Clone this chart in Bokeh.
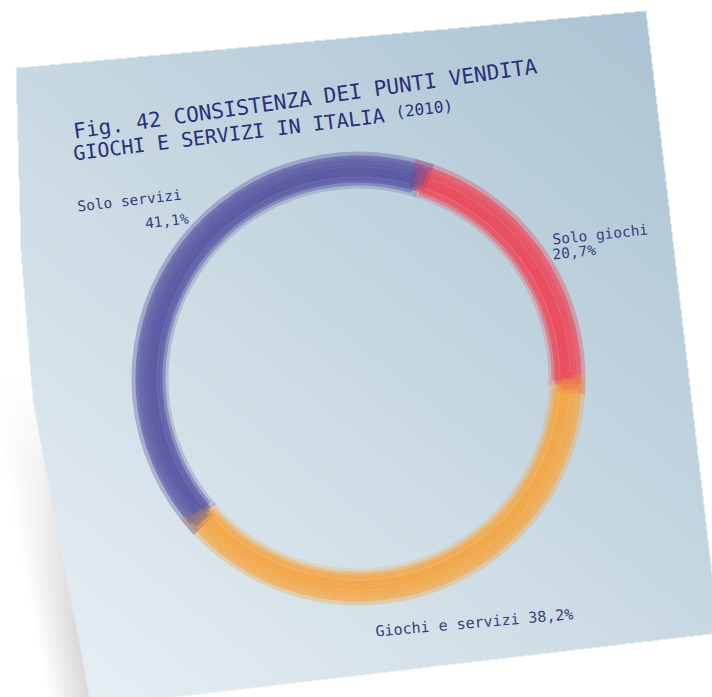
import numpy as np
from bokeh.plotting import figure
from bokeh.models import Range1d
from bokeh.embed import file_html
from bokeh.resources import INLINE
from bokeh.core.properties import value

# ---------------- data ----------------
categories = ["Solo giochi", "Giochi e servizi", "Solo servizi"]
shares = [20.7, 38.2, 41.1]
colors = ["#ee3e50", "#f5a23c", "#4f4c9e"]
streak_colors = ["#f57a86", "#f8bf72", "#7a78bb"]
title_line1 = "Fig. 42 CONSISTENZA DEI PUNTI VENDITA"
title_line2 = "GIOCHI E SERVIZI IN ITALIA"
title_year = "(2010)"

W, H = 712, 697
FONT = value("DejaVu Sans Mono")

def pct(v):
    return f"{v:.1f}".replace(".", ",") + "%"

def Y(y_img):
    return H - y_img

# ---------------- paper background (image) ----------------
poly = np.array([(15, 67), (645, 10), (718, 632), (90, 706), (78, 640),
                 (60, 550), (32, 400), (20, 250)], dtype=float)
yy, xx = np.mgrid[0:H, 0:W].astype(float)
inside = np.zeros((H, W), dtype=bool)
n = len(poly)
for i in range(n):
    x1, y1 = poly[i]
    x2, y2 = poly[(i + 1) % n]
    cond = ((y1 > yy) != (y2 > yy))
    xint = (x2 - x1) * (yy - y1) / (y2 - y1 + 1e-9) + x1
    inside ^= cond & (xx < xint)

v = np.array([-557.0, 690.0])
t = ((xx - 645) * v[0] + (yy - 10) * v[1]) / (v @ v)
t = np.clip(t, 0, 1)
c_top = np.array([172, 196, 212])
c_bot = np.array([230, 238, 242])
rgb = c_top[None, None, :] * (1 - t[..., None]) + c_bot[None, None, :] * t[..., None]

img = np.zeros((H, W, 4), dtype=np.uint8)
img[..., :3] = 255
img[..., 3] = 255
img[inside, :3] = rgb[inside].astype(np.uint8)

# soft shadow along lower-left edge (outside paper)
x_edge = np.interp(yy, [250, 400, 550, 640, 706], [20, 32, 60, 78, 90])
d = x_edge - xx
shadow = (~inside) & (d > 0) & (d < 40) & (yy > 380)
strength = np.clip((yy - 380) / 250, 0, 1) * (1 - d / 40) * 0.28
sh = np.where(shadow, strength, 0)
for k in range(3):
    img[..., k] = (img[..., k] * (1 - sh) + 120 * sh).astype(np.uint8)

img_flip = np.ascontiguousarray(np.flipud(img))
img32 = img_flip.view(dtype=np.uint32).reshape((H, W))

# ---------------- figure ----------------
p = figure(width=W, height=H, x_range=Range1d(0, W), y_range=Range1d(0, H),
           output_backend="svg", toolbar_location=None,
           x_axis_type=None, y_axis_type=None, min_border=0)
p.outline_line_color = None
p.grid.visible = False
p.background_fill_color = "white"
p.border_fill_color = "white"

p.image_rgba(image=[img32], x=0, y=0, dw=W, dh=H)

# ---------------- ring ----------------
cx, cy = 358, Y(378)
total = sum(shares)
offset_cw = 17.0  # degrees clockwise from 12 o'clock
cum = np.cumsum([0] + shares)
th1 = offset_cw + cum[:-1] / total * 360.0
th2 = offset_cw + cum[1:] / total * 360.0

layers = [  # inner, outer, alpha, angular overlap (deg)
    (196, 223, 0.55, 0.0),
    (199, 227, 0.35, 2.5),
    (193, 214, 0.40, -1.0),
    (203, 220, 0.35, 1.5),
    (190, 204, 0.22, 0.5),
]
for (ri, ro, a, ext) in layers:
    p.annular_wedge(x=[cx] * 3, y=[cy] * 3, inner_radius=ri, outer_radius=ro,
                    start_angle=list(np.radians(90 - (th1 - ext))),
                    end_angle=list(np.radians(90 - (th2 + ext))),
                    direction="clock", fill_color=colors, fill_alpha=a,
                    line_color=None)

# lighter brush streaks
for (r, a, ext) in [(201, 0.35, -2.0), (212, 0.30, -3.0), (219, 0.25, -1.0)]:
    p.arc(x=[cx] * 3, y=[cy] * 3, radius=r,
          start_angle=list(np.radians(90 - (th1 - ext))),
          end_angle=list(np.radians(90 - (th2 + ext))),
          direction="clock", line_color=streak_colors, line_alpha=a,
          line_width=2)

# ---------------- title ----------------
title_col = "#283079"
p.text(x=[73], y=[Y(131)], text=[title_line1], angle=np.radians(8.0),
       text_font=FONT, text_font_size="21px", text_color=title_col,
       text_baseline="middle", text_align="left")
p.text(x=[73], y=[Y(153)], text=[title_line2], angle=np.radians(7.0),
       text_font=FONT, text_font_size="20px", text_color=title_col,
       text_baseline="middle", text_align="left")
p.text(x=[395], y=[Y(112)], text=[title_year], angle=np.radians(7.0),
       text_font=FONT, text_font_size="16px", text_color=title_col,
       text_baseline="middle", text_align="left")

# ---------------- labels ----------------
lab_col = "#393d78"
# Solo servizi
p.text(x=[77], y=[Y(206)], text=[categories[2]], angle=np.radians(6.5),
       text_font=FONT, text_font_size="14.5px", text_color=lab_col,
       text_baseline="middle", text_align="left")
p.text(x=[188], y=[Y(218)], text=[pct(shares[2])], angle=np.radians(6.5),
       text_font=FONT, text_font_size="14.5px", text_color=lab_col,
       text_baseline="middle", text_align="right")
# Solo giochi
p.text(x=[552], y=[Y(239)], text=[categories[0]], angle=np.radians(6.0),
       text_font=FONT, text_font_size="14.5px", text_color=lab_col,
       text_baseline="middle", text_align="left")
p.text(x=[552], y=[Y(254)], text=[pct(shares[0])], angle=np.radians(6.0),
       text_font=FONT, text_font_size="14.5px", text_color=lab_col,
       text_baseline="middle", text_align="left")
# Giochi e servizi
p.text(x=[375], y=[Y(631)], text=[f"{categories[1]} {pct(shares[1])}"],
       angle=np.radians(5.0), text_font=FONT, text_font_size="15px",
       text_color=lab_col, text_baseline="middle", text_align="left")

open("out.html", "w").write(file_html(p, INLINE))
